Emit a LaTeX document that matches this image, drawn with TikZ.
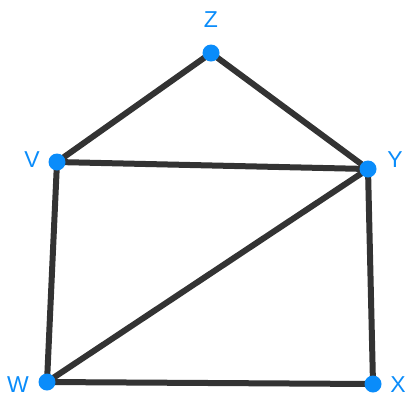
\documentclass[tikz,border=0pt]{standalone}
\usepackage{fontspec}
\setmainfont{Liberation Sans}
\definecolor{vblue}{RGB}{10,140,250}
\definecolor{edgegray}{RGB}{51,51,51}
\tikzset{
  vtx/.style={circle, fill=vblue, inner sep=0pt, minimum size=17pt},
  vlabel/.style={text=vblue, font=\fontsize{23}{23}\selectfont, inner sep=0pt},
  edge/.style={draw=edgegray, line width=6pt}
}

\begin{document}
\begin{tikzpicture}[x=1pt,y=-1pt]
\useasboundingbox (0,0) rectangle (406,392);
% vertex positions
\coordinate (Z) at (211,53);
\coordinate (V) at (57,162);
\coordinate (Y) at (368,169);
\coordinate (W) at (47,382);
\coordinate (X) at (373,384);
% edges
\draw[edge] (Z) -- (V);
\draw[edge] (Z) -- (Y);
\draw[edge] (V) -- (Y);
\draw[edge] (V) -- (W);
\draw[edge] (Y) -- (W);
\draw[edge] (Y) -- (X);
\draw[edge] (W) -- (X);
% dots
\foreach \v in {Z,V,Y,W,X}
  \node[vtx] (dot\v) at (\v) {};
% labels
\node[vlabel] (labZ) at (211,20) {Z};
\node[vlabel] (labV) at (32,160) {V};
\node[vlabel] (labY) at (395,160) {Y};
\node[vlabel] (labW) at (18,385) {W};
\node[vlabel] (labX) at (398,385) {X};
\end{tikzpicture}
\end{document}
